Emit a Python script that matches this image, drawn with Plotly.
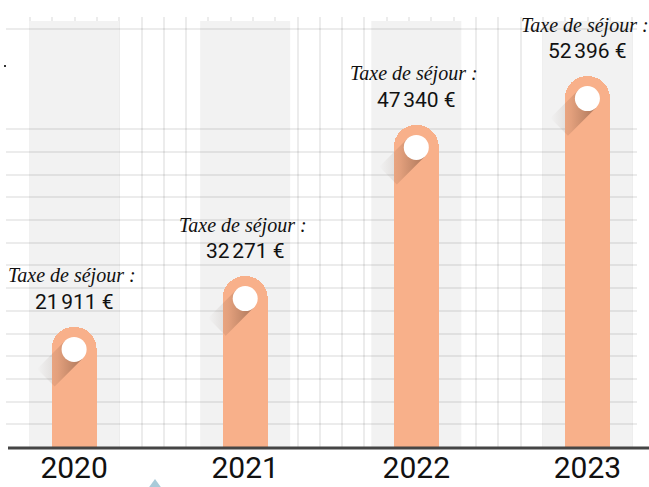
import plotly.graph_objects as go

# ---------------- data ----------------
years = ["2020", "2021", "2022", "2023"]
tax_values = [21911, 32271, 47340, 52396]          # label values (EUR)
bar_heights = [5.29, 7.53, 14.19, 16.34]           # visual bar heights (grid units)
label_title = "Taxe de séjour :"

# ---------------- layout constants ----------------
W, H = 649, 487
ML, MR, MT, MB = 6, 12, 17, 40
PW, PH = W - ML - MR, H - MT - MB
X_PPU = 171.1                     # pixels per category step
X0_PX = 74.1                      # pixel of first category centre
Y_PPU = 22.7                      # pixels per grid unit
xr = [-(X0_PX - ML) / X_PPU, (ML + PW - X0_PX) / X_PPU]
yr = [0, PH / Y_PPU]

BAR_COLOR = "#f8b08a"
GRID = "rgba(0,0,0,0.075)"
BAND = "#f2f2f2"

def px2x(p):
    return (p - X0_PX) / X_PPU

def px2paper_x(p):
    return (p - ML) / PW

def px2paper_y(p):
    return (MT + PH - p) / PH

xs = list(range(len(years)))
bar_w = 45 / X_PPU
band_half = 45 / X_PPU
r_circle_units = 22.5 / Y_PPU

fig = go.Figure()

fig.add_trace(go.Bar(
    x=xs, y=bar_heights, width=bar_w,
    marker=dict(color=BAR_COLOR, cornerradius="50%", line=dict(width=0)),
    hoverinfo="skip", showlegend=False,
))

# long shadows
L = 40
t = 8.8
for xi, h in zip(xs, bar_heights):
    cy = h - r_circle_units
    pts_px = [(t, t), (-t, -t), (-t - L * 0.7071, -t + L * 0.7071), (t - L * 0.7071, t + L * 0.7071)]
    sx = [xi + dx / X_PPU for dx, dy in pts_px]
    sy = [cy - dy / Y_PPU for dx, dy in pts_px]
    sx.append(sx[0]); sy.append(sy[0])
    fig.add_trace(go.Scatter(
        x=sx, y=sy, mode="lines", line=dict(width=0), fill="toself",
        fillgradient=dict(type="horizontal",
                          colorscale=[[0, "rgba(70,40,25,0)"], [0.45, "rgba(70,40,25,0.12)"], [1, "rgba(70,40,25,0.42)"]]),
        hoverinfo="skip", showlegend=False,
    ))

fig.add_trace(go.Scatter(
    x=xs, y=[h - r_circle_units for h in bar_heights], mode="markers",
    marker=dict(color="white", size=25, line=dict(width=0)),
    hoverinfo="skip", showlegend=False,
))

shapes = []
# gray bands
for xi in xs:
    shapes.append(dict(type="rect", xref="x", yref="y", layer="below",
                       x0=xi - band_half, x1=xi + band_half, y0=0, y1=(MT + PH - 21) / Y_PPU,
                       fillcolor=BAND, line=dict(width=0)))
# vertical grid lines
for k in range(28):
    px = round(30 + 22.3 * k)
    shapes.append(dict(type="line", xref="x", yref="paper", layer="below",
                       x0=px2x(px), x1=px2x(px), y0=0, y1=1,
                       line=dict(color=GRID, width=2)))
# base axis line
shapes.append(dict(type="line", xref="paper", yref="paper",
                   x0=px2paper_x(8), x1=px2paper_x(652), y0=px2paper_y(448), y1=px2paper_y(448),
                   line=dict(color="#454545", width=3)))
# small blue triangle at bottom
shapes.append(dict(type="path", xref="paper", yref="paper",
                   path=f"M {px2paper_x(155)} {px2paper_y(479)} L {px2paper_x(163)} {px2paper_y(490)} L {px2paper_x(147)} {px2paper_y(490)} Z",
                   fillcolor="#a9cbd9", line=dict(width=0)))
# small dot top-left
shapes.append(dict(type="rect", xref="paper", yref="paper",
                   x0=px2paper_x(4), x1=px2paper_x(6), y0=px2paper_y(67), y1=px2paper_y(65),
                   fillcolor="#333333", line=dict(width=0)))

annotations = []
for xi, h, v in zip(xs, bar_heights, tax_values):
    val_txt = f"{v:,}".replace(",", "\u202f") + " €"
    annotations.append(dict(x=xi, y=h, xref="x", yref="y", text=f"<i>{label_title}</i>",
                            showarrow=False, yshift=51, xshift=-2, yanchor="middle", xanchor="center",
                            font=dict(family="Liberation Serif", size=20, color="#111111")))
    annotations.append(dict(x=xi, y=h, xref="x", yref="y", text=val_txt,
                            showarrow=False, yshift=25, yanchor="middle", xanchor="center",
                            font=dict(family="Roboto", size=21, color="#111111")))

grid_rows = list(range(1, 15)) + [(MT + PH - 29) / Y_PPU]

fig.update_layout(
    template="none",
    width=W, height=H,
    margin=dict(l=ML, r=MR, t=MT, b=MB, pad=0, autoexpand=False),
    paper_bgcolor="white", plot_bgcolor="white",
    showlegend=False, hovermode=False,
    bargap=0,
    xaxis=dict(range=xr, tickmode="array", tickvals=xs, ticktext=years, automargin=False,
               showgrid=False, zeroline=False, showline=False, ticks="",
               tickfont=dict(family="Roboto", size=30, color="#111111"),
               fixedrange=True),
    yaxis=dict(range=yr, tickmode="array", tickvals=grid_rows, showticklabels=False, automargin=False,
               showgrid=True, gridcolor=GRID, gridwidth=2, zeroline=False, showline=False,
               ticks="", fixedrange=True),
    shapes=shapes,
    annotations=annotations,
)

fig.write_html("out.html", config={"displayModeBar": False, "staticPlot": True},
               post_script="document.body.style.margin='0';document.body.style.overflow='hidden';")
